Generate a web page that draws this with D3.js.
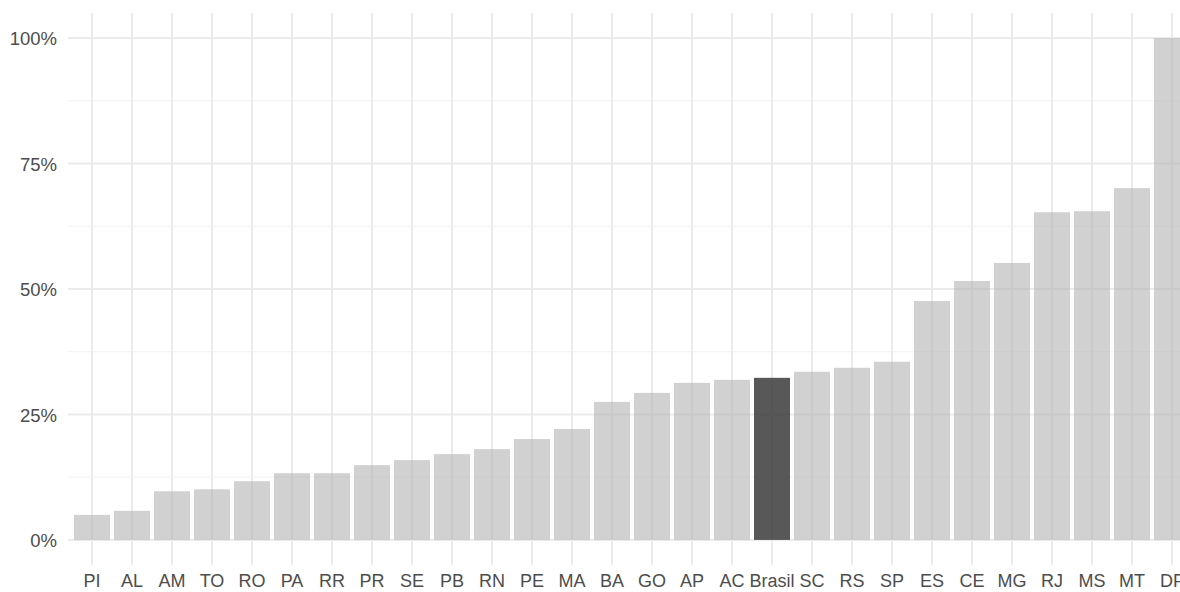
<!DOCTYPE html>
<html><head><meta charset="utf-8">
<script src="https://cdn.jsdelivr.net/npm/d3@7"></script>
<style>body{margin:0;background:#fff}svg{display:block}</style>
</head><body>
<svg id="c" width="1180" height="592"></svg>
<script>
const categories = ["PI","AL","AM","TO","RO","PA","RR","PR","SE","PB","RN","PE","MA","BA","GO","AP","AC","Brasil","SC","RS","SP","ES","CE","MG","RJ","MS","MT","DF"];
const values = [5.0,5.8,9.7,10.1,11.7,13.3,13.3,14.9,15.9,17.1,18.1,20.1,22.1,27.5,29.3,31.3,31.9,32.3,33.5,34.3,35.5,47.6,51.6,55.2,65.3,65.5,70.1,100];
const highlight = "Brasil";
const yTicks = [0,25,50,75,100];
const yMinor = [12.5,37.5,62.5,87.5];

(function(){
const svg = d3.select("#c");
const pL = 68, pR = 1196, pT = 13, pB = 565;
const xb = d3.scaleBand().domain(categories).range([70, 70 + 40*28.1]).padding(0.1);
const y = d3.scaleLinear().domain([-5,105]).range([pB, pT]);

const g = svg.append("g");
g.selectAll(".minor").data(yMinor).join("line")
  .attr("x1", pL).attr("x2", 1180).attr("y1", d=>y(d)).attr("y2", d=>y(d))
  .attr("stroke", "#f2f2f2").attr("stroke-width", 1);
g.selectAll(".majh").data(yTicks).join("line")
  .attr("x1", pL).attr("x2", 1180).attr("y1", d=>y(d)).attr("y2", d=>y(d))
  .attr("stroke", "#ebebeb").attr("stroke-width", 2);
g.selectAll(".majv").data(categories).join("line")
  .attr("x1", d=>xb(d)+xb.bandwidth()/2).attr("x2", d=>xb(d)+xb.bandwidth()/2)
  .attr("y1", pT).attr("y2", pB)
  .attr("stroke", "#ebebeb").attr("stroke-width", 2);

g.selectAll(".bar").data(categories).join("rect")
  .attr("x", d=>xb(d)).attr("width", xb.bandwidth())
  .attr("y", (d,i)=>y(values[i])).attr("height", (d,i)=>y(0)-y(values[i]))
  .attr("fill", d=> d===highlight ? "#333333" : "#b3b3b3")
  .attr("fill-opacity", d=> d===highlight ? 0.82 : 0.6);

const yAxis = d3.axisLeft(y).tickValues(yTicks).tickFormat(d=>d+"%").tickSize(0).tickPadding(0);
const ya = svg.append("g").attr("transform", "translate(57,0)").call(yAxis);
ya.select(".domain").remove();
ya.selectAll("text").attr("fill","#4d4d4d").style("font-family","Liberation Sans, Arial, sans-serif").style("font-size","18.5px").attr("dy","0.36em");

const xAxis = d3.axisBottom(xb).tickSize(0).tickPadding(0);
const xa = svg.append("g").attr("transform", "translate(0,574)").call(xAxis);
xa.select(".domain").remove();
xa.selectAll("text").attr("fill","#4d4d4d").style("font-family","Liberation Sans, Arial, sans-serif").style("font-size","18px").attr("dy","0.71em");
})();
</script>
</body></html>
